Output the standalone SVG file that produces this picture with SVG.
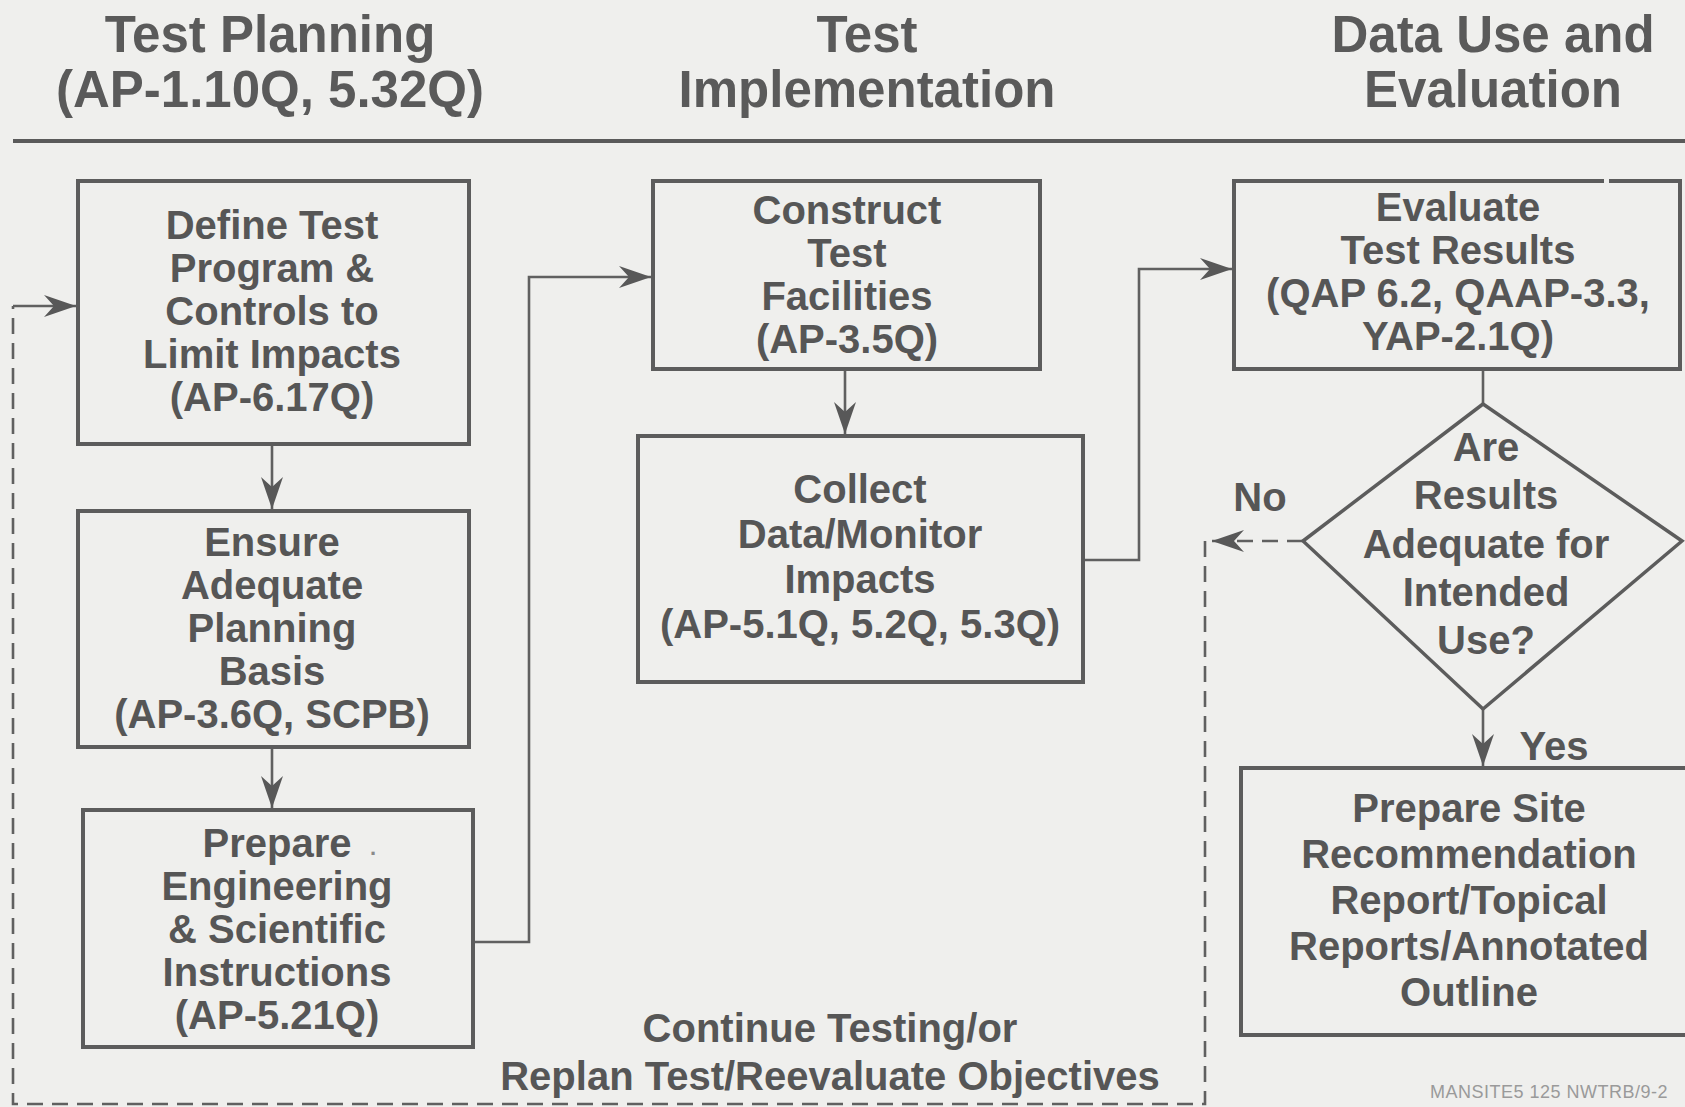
<svg xmlns="http://www.w3.org/2000/svg" width="1685" height="1107" viewBox="0 0 1685 1107">
  <style>
    .bg { fill: #efefed; }
    .box { fill: none; stroke: #5c5c5c; stroke-width: 4; }
    .head { font-family: "Liberation Sans", Arial, sans-serif; font-weight: bold; font-size: 51px; fill: #5a5a5a; text-anchor: middle; }
    .lbl { font-family: "Liberation Sans", Arial, sans-serif; font-weight: bold; font-size: 40px; fill: #565656; text-anchor: middle; }
    .note { font-family: "Liberation Sans", Arial, sans-serif; font-size: 18px; fill: #9a9a9a; letter-spacing: 0.5px; }
    .wire { fill: none; stroke: #606060; stroke-width: 2.6; }
    .dash { fill: none; stroke: #606060; stroke-width: 2.6; stroke-dasharray: 16 9; }
  </style>
  <defs>
    <marker id="arrow" markerUnits="userSpaceOnUse" markerWidth="34" markerHeight="26" viewBox="-33 -13 34 26" refX="0" refY="0" orient="auto">
      <path d="M0,0 L-32,-11 L-22,0 L-32,11 Z" fill="#585858"/>
    </marker>
  </defs>

  <rect class="bg" x="0" y="0" width="1685" height="1107"/>

  <!-- column headings -->
  <g id="headings">
    <text class="head" x="270" y="52">Test Planning</text>
    <text class="head" x="270" y="107">(AP-1.10Q, 5.32Q)</text>
    <text class="head" x="867" y="52">Test</text>
    <text class="head" x="867" y="107">Implementation</text>
    <text class="head" x="1493" y="52">Data Use and</text>
    <text class="head" x="1493" y="107">Evaluation</text>
    <line x1="13" y1="141" x2="1685" y2="141" stroke="#5a5a5a" stroke-width="4"/>
  </g>

  <!-- connectors -->
  <g id="connectors">
    <path class="wire" d="M272,444 V509" marker-end="url(#arrow)"/>
    <path class="wire" d="M272,747 V808" marker-end="url(#arrow)"/>
    <path class="wire" d="M473,942 H529 V277 H651" marker-end="url(#arrow)"/>
    <path class="wire" d="M845,369 V434" marker-end="url(#arrow)"/>
    <path class="wire" d="M1083,560 H1139 V269 H1232" marker-end="url(#arrow)"/>
    <path class="wire" d="M1483,369 V404"/>
    <path class="wire" d="M1483,709 V766" marker-end="url(#arrow)"/>
    <path class="dash" d="M1303,541 H1212" marker-end="url(#arrow)"/>
    <path class="dash" d="M1205,541 V1104 H13 V306"/>
    <path class="wire" d="M13,306 H76" marker-end="url(#arrow)"/>
  </g>

  <g id="define-test-program">
    <rect class="box" x="78" y="181" width="391" height="263"/>
    <text class="lbl" x="272" y="239">Define Test</text>
    <text class="lbl" x="272" y="282">Program &amp;</text>
    <text class="lbl" x="272" y="325">Controls to</text>
    <text class="lbl" x="272" y="368">Limit Impacts</text>
    <text class="lbl" x="272" y="411">(AP-6.17Q)</text>
  </g>

  <g id="ensure-planning-basis">
    <rect class="box" x="78" y="511" width="391" height="236"/>
    <text class="lbl" x="272" y="556">Ensure</text>
    <text class="lbl" x="272" y="599">Adequate</text>
    <text class="lbl" x="272" y="642">Planning</text>
    <text class="lbl" x="272" y="685">Basis</text>
    <text class="lbl" x="272" y="728">(AP-3.6Q, SCPB)</text>
  </g>

  <g id="prepare-instructions">
    <rect class="box" x="83" y="810" width="390" height="237"/>
    <text class="lbl" x="277" y="857">Prepare</text>
    <text class="lbl" x="373" y="855" style="font-size:22px;fill:#8a8a8a">.</text>
    <text class="lbl" x="277" y="900">Engineering</text>
    <text class="lbl" x="277" y="943">&amp; Scientific</text>
    <text class="lbl" x="277" y="986">Instructions</text>
    <text class="lbl" x="277" y="1029">(AP-5.21Q)</text>
  </g>

  <g id="construct-facilities">
    <rect class="box" x="653" y="181" width="387" height="188"/>
    <text class="lbl" x="847" y="224">Construct</text>
    <text class="lbl" x="847" y="267">Test</text>
    <text class="lbl" x="847" y="310">Facilities</text>
    <text class="lbl" x="847" y="353">(AP-3.5Q)</text>
  </g>

  <g id="collect-data">
    <rect class="box" x="638" y="436" width="445" height="246"/>
    <text class="lbl" x="860" y="503">Collect</text>
    <text class="lbl" x="860" y="548">Data/Monitor</text>
    <text class="lbl" x="860" y="593">Impacts</text>
    <text class="lbl" x="860" y="638">(AP-5.1Q, 5.2Q, 5.3Q)</text>
  </g>

  <g id="evaluate-results">
    <rect class="box" x="1234" y="181" width="446" height="188"/>
    <rect class="bg" x="1604" y="177" width="5" height="8"/>
    <text class="lbl" x="1458" y="221">Evaluate</text>
    <text class="lbl" x="1458" y="264">Test Results</text>
    <text class="lbl" x="1458" y="307">(QAP 6.2, QAAP-3.3,</text>
    <text class="lbl" x="1458" y="350">YAP-2.1Q)</text>
  </g>

  <g id="results-adequate">
    <polygon points="1483,404 1682,541 1483,709 1303,541" fill="none" stroke="#5c5c5c" stroke-width="3.5"/>
    <text class="lbl" x="1486" y="461">Are</text>
    <text class="lbl" x="1486" y="509">Results</text>
    <text class="lbl" x="1486" y="558">Adequate for</text>
    <text class="lbl" x="1486" y="606">Intended</text>
    <text class="lbl" x="1486" y="654">Use?</text>
  </g>

  <g id="prepare-report">
    <rect class="box" x="1241" y="768" width="452" height="267"/>
    <text class="lbl" x="1469" y="822">Prepare Site</text>
    <text class="lbl" x="1469" y="868">Recommendation</text>
    <text class="lbl" x="1469" y="914">Report/Topical</text>
    <text class="lbl" x="1469" y="960">Reports/Annotated</text>
    <text class="lbl" x="1469" y="1006">Outline</text>
  </g>

  <!-- branch and loop labels -->
  <g id="labels">
    <text class="lbl" x="1260" y="511">No</text>
    <text class="lbl" x="1554" y="760">Yes</text>
    <text class="lbl" x="830" y="1042">Continue Testing/or</text>
    <text class="lbl" x="830" y="1090">Replan Test/Reevaluate Objectives</text>
    <text class="note" x="1430" y="1098">MANSITE5 125 NWTRB/9-2</text>
  </g>
</svg>
